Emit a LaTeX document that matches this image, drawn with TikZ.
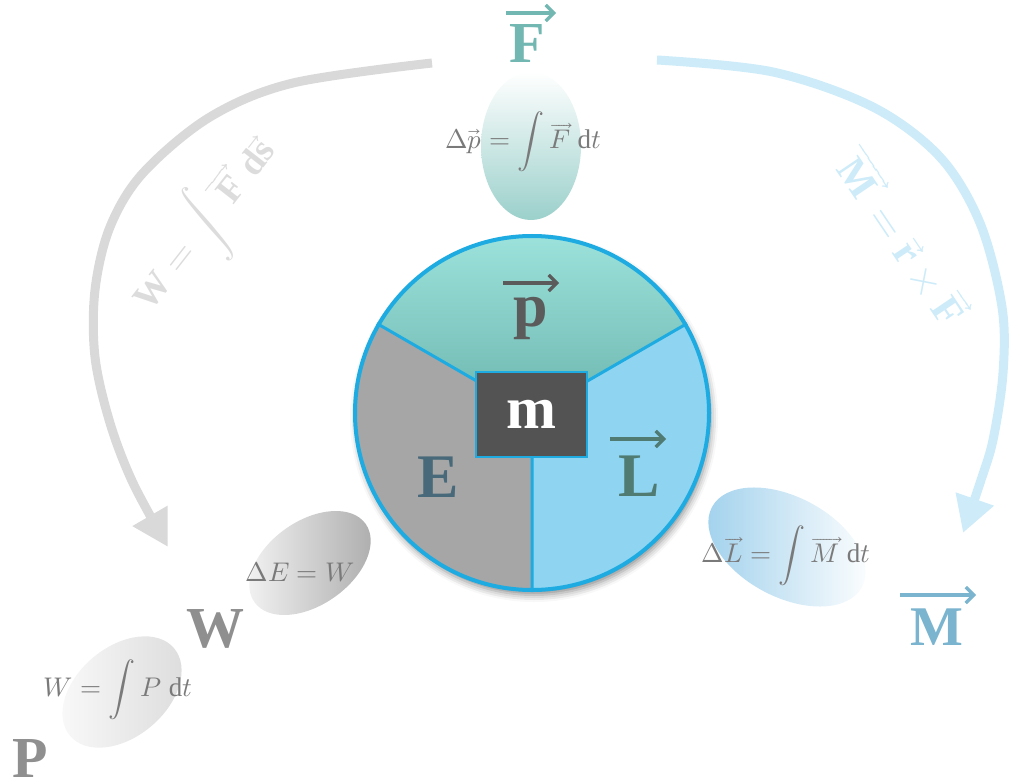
\documentclass[tikz,border=0pt]{standalone}
\usepackage{fontspec}
\usepackage{unicode-math}
\setmainfont{Liberation Serif}
\usetikzlibrary{arrows.meta,shapes.geometric,shadows.blur}
\definecolor{ringblue}{HTML}{1DABE1}
\definecolor{ptop}{HTML}{A3E8E2}
\definecolor{pbot}{HTML}{6CB6AE}
\definecolor{sgray}{HTML}{A6A6A6}
\definecolor{sblue}{HTML}{8FD4F1}
\definecolor{boxgray}{HTML}{535353}
\definecolor{pcol}{HTML}{5B5B5B}
\definecolor{Ecol}{HTML}{47697A}
\definecolor{Lcol}{HTML}{4F7B73}
\definecolor{Fcol}{HTML}{72B7B1}
\definecolor{Mcol}{HTML}{7AB4CE}
\definecolor{Wcol}{HTML}{8F8F8F}
\definecolor{mathgray}{HTML}{7A7A7A}
\definecolor{arcgray}{HTML}{D9D9D9}
\definecolor{labgray}{HTML}{DCDCDC}
\definecolor{arcblue}{HTML}{CDEBF8}
\definecolor{pell}{HTML}{9BD0CB}
\definecolor{lell}{HTML}{9FD0EC}
\definecolor{gell}{HTML}{ABABAB}
\definecolor{gellb}{HTML}{DCDCDC}
\newcommand\fsz[1]{\fontsize{#1}{#1}\selectfont}
\newcommand\vecpad[1]{\overrightarrow{\mkern3mu#1\mkern3mu}}
\begin{document}
\begin{tikzpicture}[x=1pt,y=-1pt,
  bigletter/.style={font=\fsz{58}\bfseries, inner sep=0pt, anchor=base},
  mathlabel/.style={font=\fsz{27}, text=mathgray, inner sep=0pt},
  arclabel/.style={inner sep=0pt},
  bigvec/.style={line width=3.2pt, -{Straight Barb[length=8pt,width=16pt]}},
  grayarc/.style={draw=arcgray, line width=9pt, -{Triangle[width=38pt,length=36pt]}},
  bluearc/.style={draw=arcblue, line width=9pt, -{Triangle[width=38pt,length=36pt]}},
  blob/.style={ellipse, inner sep=0pt, draw=none}]
\useasboundingbox (0,0) rectangle (1009,783);

% arcs
\coordinate (ws) at (432,63);
\coordinate (we) at (168,547);
\coordinate (ms) at (657,60);
\coordinate (me) at (963,533);
\draw[grayarc] plot[smooth,tension=0.55] coordinates {(ws) (293,83) (210,117) (143,173) (110,227) (95,290) (95,357) (110,423) (133,483) (we)};
\draw[bluearc] plot[smooth,tension=0.55] coordinates {(ms) (773,72) (873,107) (940,157) (980,223) (1002,307) (1003,373) (993,440) (980,483) (me)};

% arc labels
\node[arclabel, text=labgray, rotate=52, font=\fsz{37}\bfseries] (wlab) at (206,226)
  {$\textbf{W} = \displaystyle\int \vecpad{\textbf{F}}\,\textbf{d}\overrightarrow{\textbf{s}}$};
\node[arclabel, text=arcblue, rotate=-56, font=\fsz{41}\bfseries] (mlab) at (903,236)
  {$\vecpad{\textbf{M}} = \overrightarrow{\textbf{r}}\times\overrightarrow{\textbf{F}}$};

% gradient ellipses
\node[blob, minimum width=100pt, minimum height=148pt, top color=white, bottom color=pell] (pe) at (531,146) {};
\node[blob, minimum width=136pt, minimum height=84pt, rotate=35, left color=white!96!black, right color=gell] (ee) at (310,563) {};
\node[blob, minimum width=136pt, minimum height=90pt, rotate=40, left color=white!98!black, right color=gellb] (we2) at (122,692) {};
\node[blob, minimum width=170pt, minimum height=100pt, rotate=-28, left color=lell, right color=white] (le) at (787,547) {};

% main circle
\coordinate (C) at (532,413);
\fill[white, blur shadow={shadow xshift=2pt, shadow yshift=-5pt, shadow blur radius=7pt, shadow opacity=45}] (C) circle[radius=177];
\fill[sgray] (C) -- ++(90:177) arc[start angle=90,end angle=210,radius=177] -- cycle;
\fill[sblue] (C) -- ++(-30:177) arc[start angle=-30,end angle=90,radius=177] -- cycle;
\shade[top color=ptop, bottom color=pbot] (C) -- ++(210:177) arc[start angle=210,end angle=330,radius=177] -- cycle;
\node[circle, minimum size=354pt, draw=ringblue, line width=4pt, inner sep=0pt] (circ) at (C) {};
\draw[ringblue, line width=3pt] (circ.center) -- (circ.150) (circ.center) -- (circ.30) (circ.center) -- (circ.-90);
\node[draw=ringblue, line width=1.5pt, fill=boxgray, minimum width=111pt, minimum height=85pt, inner sep=0pt] (mbox) at (531.5,414.5) {};
\node[bigletter, text=white, font=\fsz{60}\bfseries] (m) at (531,428) {m};

% letters in the circle
\node[bigletter, text=pcol, font=\fsz{62}\bfseries] (p) at (531,327) {p};
\node[bigletter, text=Ecol, font=\fsz{62}\bfseries] (E) at (438,497) {E};
\node[bigletter, text=Lcol, font=\fsz{62}\bfseries] (L) at (639,496) {L};

% outer letters
\node[bigletter, text=Fcol] (F) at (527,63) {F};
\node[bigletter, text=Mcol, font=\fsz{56}\bfseries] (M) at (937,645) {M};
\node[bigletter, text=Wcol] (W) at (215,647) {W};
\node[bigletter, text=Wcol] (P) at (30,777) {P};

% vector arrows over the big letters
\coordinate (pa1) at (503,283); \coordinate (pa2) at (559,283);
\coordinate (La1) at (610,439); \coordinate (La2) at (666,439);
\coordinate (Fa1) at (506,13);  \coordinate (Fa2) at (556,13);
\coordinate (Ma1) at (900,595); \coordinate (Ma2) at (976,595);
\draw[bigvec, pcol] (pa1) -- (pa2);
\draw[bigvec, Lcol] (La1) -- (La2);
\draw[bigvec, Fcol] (Fa1) -- (Fa2);
\draw[bigvec, Mcol] (Ma1) -- (Ma2);

% formulas
\node[mathlabel] (fp) at (523,142) {$\Delta\overrightarrow{p} = \displaystyle\int \overrightarrow{F}\;\mathrm{d}t$};
\node[mathlabel] (fe) at (300,572) {$\Delta E = W$};
\node[mathlabel] (fw) at (118,690) {$W = \displaystyle\int P\;\mathrm{d}t$};
\node[mathlabel] (fl) at (786,556) {$\Delta\overrightarrow{L} = \displaystyle\int \overrightarrow{M}\;\mathrm{d}t$};
\end{tikzpicture}
\end{document}
